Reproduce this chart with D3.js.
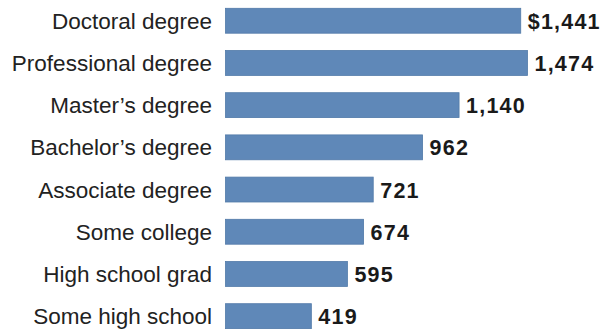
<!DOCTYPE html>
<html>
<head>
<meta charset="utf-8">
<script src="https://cdn.jsdelivr.net/npm/d3@7"></script>
<style>
  html, body { margin: 0; padding: 0; background: #fff; }
  svg { display: block; }
  .label { font-family: "Liberation Sans", Arial, sans-serif; font-size: 22.5px; fill: #222; }
  .value { font-family: "Liberation Sans", Arial, sans-serif; font-size: 21.5px; font-weight: bold; fill: #1a1a1a; }
</style>
</head>
<body>
<div id="chart"></div>
<script>
// education levels, top to bottom
const categories = [
    "Doctoral degree",
    "Professional degree",
    "Master\u2019s degree",
    "Bachelor\u2019s degree",
    "Associate degree",
    "Some college",
    "High school grad",
    "Some high school"
];
// median weekly earnings, dollars
const earnings = [1441, 1474, 1140, 962, 721, 674, 595, 419];
const valueLabels = ["$1,441", "1,474", "1,140", "962", "721", "674", "595", "419"];

const width = 604, height = 329;

let svg = d3.select("#chart").append("svg")
    .attr("width", width)
    .attr("height", height);

let data = categories.map((c, i) => ({cat: c, val: earnings[i], label: valueLabels[i]}));

let x = d3.scaleLinear()
    .domain([0, d3.max(earnings)])
    .range([225.5, 527.5]);

let y = d3.scaleBand()
    .domain(categories)
    .range([8.3, 328.6])
    .paddingInner(0.41)
    .paddingOuter(0);

// bars
svg.selectAll("rect.bar")
    .data(data)
    .enter().append("rect")
    .attr("class", "bar")
    .attr("x", x(0))
    .attr("y", d => y(d.cat))
    .attr("width", d => x(d.val) - x(0))
    .attr("height", y.bandwidth())
    .attr("fill", "#5f88b8")
    .attr("stroke", "#527aa8")
    .attr("stroke-width", 0.8);

// category labels
svg.selectAll("text.label")
    .data(data)
    .enter().append("text")
    .attr("class", "label")
    .attr("x", 212)
    .attr("y", d => y(d.cat) + y.bandwidth() / 2)
    .attr("dy", "0.36em")
    .attr("text-anchor", "end")
    .text(d => d.cat);

// value labels
svg.selectAll("text.value")
    .data(data)
    .enter().append("text")
    .attr("class", "value")
    .attr("x", d => x(d.val) + 7)
    .attr("y", d => y(d.cat) + y.bandwidth() / 2)
    .attr("dy", "0.37em")
    .attr("letter-spacing", "1.2px")
    .text(d => d.label);
</script>
</body>
</html>
